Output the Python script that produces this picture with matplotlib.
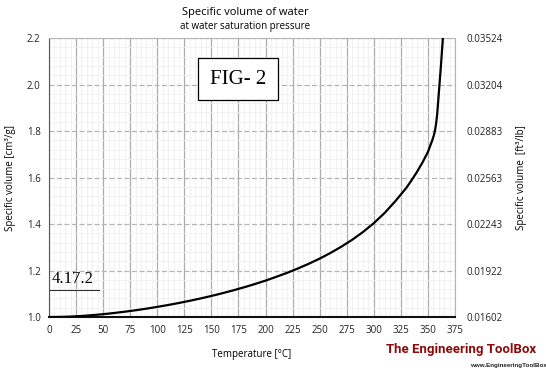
import matplotlib
matplotlib.use("Agg")
import matplotlib.pyplot as plt
from matplotlib.ticker import MultipleLocator

temps = [0, 5, 10, 15, 20, 30, 40, 50, 60, 70, 80, 90, 100, 110, 120, 130, 140,
         150, 160, 170, 180, 190, 200, 210, 220, 230, 240, 250, 260, 270, 280,
         290, 300, 310, 320, 330, 335, 340, 345, 350, 352, 354, 355.5, 356.5,
         357.5, 358.5, 360, 362, 363.8]
volume = [1.0000, 1.0000, 1.0003, 1.0009, 1.0018, 1.0044, 1.0079, 1.0121, 1.0171,
          1.0228, 1.0290, 1.0359, 1.0435, 1.0516, 1.0603, 1.0697, 1.0798, 1.0905,
          1.1021, 1.1144, 1.1275, 1.1415, 1.1565, 1.1730, 1.1900, 1.2088, 1.2291,
          1.2512, 1.2755, 1.3023, 1.3321, 1.3655, 1.4036, 1.4475, 1.4988, 1.5550,
          1.5890, 1.6250, 1.6650, 1.7100, 1.7350, 1.7600, 1.7820, 1.8020, 1.8300,
          1.8700, 1.9600, 2.0800, 2.2000]
xticks = list(range(0, 376, 25))
yticks = [1.0, 1.2, 1.4, 1.6, 1.8, 2.0, 2.2]
right_labels = ["0.01602", "0.01922", "0.02243", "0.02563", "0.02883", "0.03204", "0.03524"]

plt.rcParams['font.family'] = ['Open Sans', 'DejaVu Sans']

fig = plt.figure(figsize=(5.46, 3.75), dpi=100)
ax = fig.add_axes([49/546, 1-317/375, (455-49)/546, (317-38)/375])

ax.plot(temps, volume, color='black', lw=1.6, zorder=5, solid_joinstyle='round')
ax.set_xlim(0, 375)
ax.set_ylim(1.0, 2.2)
ax.set_xticks(xticks)
ax.set_yticks(yticks)
ax.set_yticklabels([f"{v:.1f}" for v in yticks])
ax.xaxis.set_minor_locator(MultipleLocator(5))
ax.yaxis.set_minor_locator(MultipleLocator(0.04))
ax.grid(which='minor', color='#f0f0f0', lw=0.6)
ax.grid(which='major', axis='x', color='#acacac', lw=0.9)
ax.grid(which='major', axis='y', color='#b5b5b5', lw=0.9, ls=(0, (4, 2)))
ax.set_axisbelow(True)
ax.tick_params(which='both', length=0, labelsize=7, pad=6, colors='#222222')
for s in ['top', 'right']:
    ax.spines[s].set_color('#b5b5b5')
    ax.spines[s].set_linewidth(0.8)
ax.spines['left'].set_color('#555555')
ax.spines['bottom'].set_color('#111111')
ax.spines['bottom'].set_linewidth(1.5)

ax2 = ax.twinx()
ax2.set_ylim(1.0, 2.2)
ax2.set_yticks(yticks)
ax2.set_yticklabels(right_labels)
ax2.tick_params(length=0, labelsize=7, pad=8, colors='#222222')
for s in ax2.spines.values():
    s.set_visible(False)

ax.set_xlabel("Temperature [°C]", fontsize=7, labelpad=9)
ax.set_ylabel("Specific volume [cm³/g]", fontsize=7, labelpad=8)
ax2.set_ylabel("Specific volume  [ft³/lb]", fontsize=7, labelpad=10)

fig.text(245/546, 1-12/375, "Specific volume of water", fontsize=8, ha='center', va='center')
fig.text(245/546, 1-26/375, "at water saturation pressure", fontsize=7, ha='center', va='center')

fig.text(238/546, 1-79/375, "FIG- 2", fontsize=15, family='Liberation Serif', ha='center', va='center',
         bbox=dict(boxstyle='square,pad=0.55', fc='white', ec='black', lw=0.9), zorder=10)

fig.text(52/546, 1-279/375, "4.17.2", fontsize=12, family='Liberation Serif', ha='left', va='center', zorder=10)
fig.add_artist(plt.Line2D([50/546, 99/546], [1-290/375, 1-290/375], color='#333333', lw=0.8))

fig.text(461/546, 1-350/375, "The Engineering ToolBox", fontsize=9.5, fontweight='bold',
         family=['Roboto', 'DejaVu Sans'], color='#8b0a0a', ha='center', va='center')
fig.text(470/546, 1-366/375, "www.EngineeringToolBox", fontsize=4.5, fontweight='bold',
         family=['Liberation Sans', 'DejaVu Sans'], color='#222222', ha='left', va='center')

fig.savefig("out.png", dpi=100)
